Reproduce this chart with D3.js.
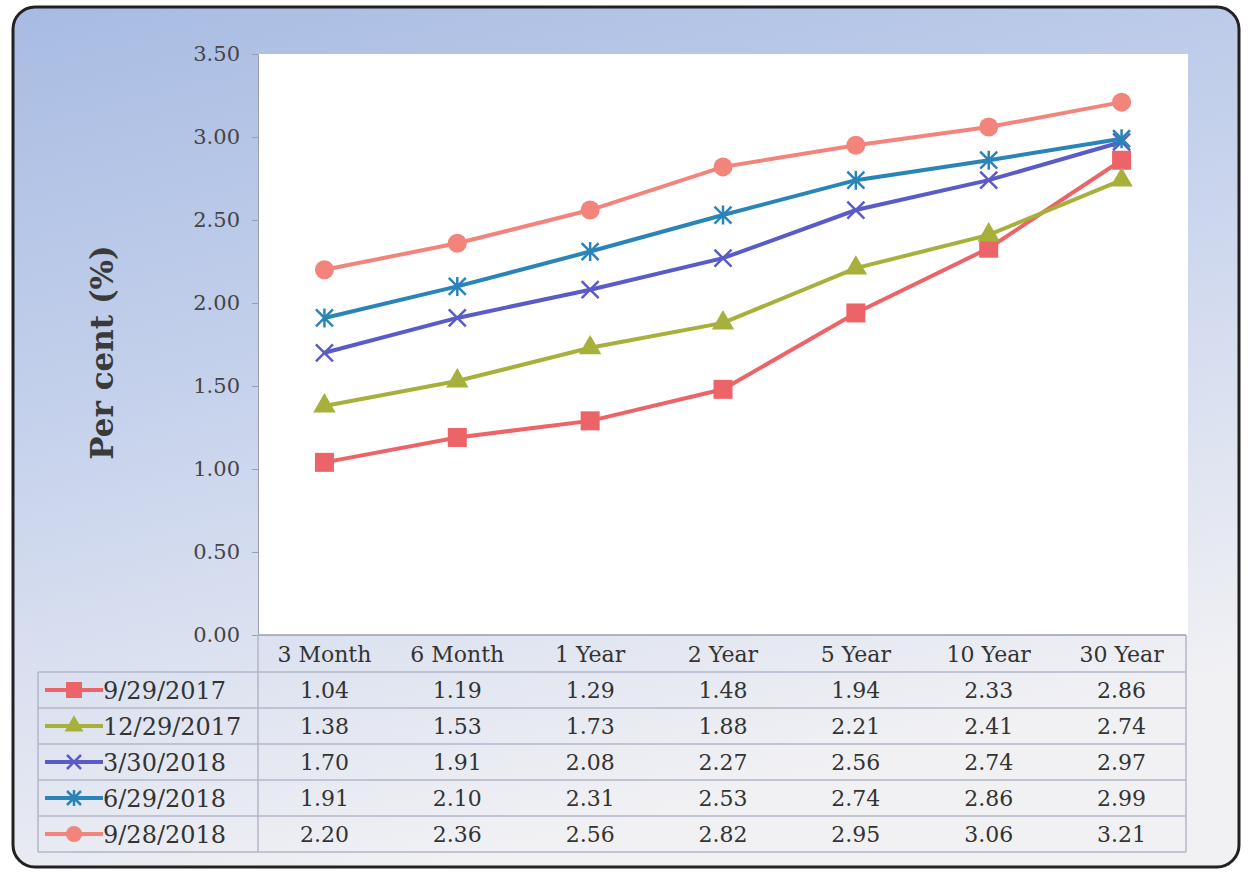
<!DOCTYPE html>
<html>
<head>
<meta charset="utf-8">
<script src="https://cdn.jsdelivr.net/npm/d3@7"></script>
<style>
  body { margin: 0; background: #fff; }
  svg text { font-family: "DejaVu Serif", serif; fill: #333; }
</style>
</head>
<body>
<div id="chart"></div>
<script>
// data
var categories = ["3 Month", "6 Month", "1 Year", "2 Year", "5 Year", "10 Year", "30 Year"];
var seriesNames = ["9/29/2017", "12/29/2017", "3/30/2018", "6/29/2018", "9/28/2018"];
var s2017q3 = [1.04, 1.19, 1.29, 1.48, 1.94, 2.33, 2.86];
var s2017q4 = [1.38, 1.53, 1.73, 1.88, 2.21, 2.41, 2.74];
var s2018q1 = [1.70, 1.91, 2.08, 2.27, 2.56, 2.74, 2.97];
var s2018q2 = [1.91, 2.10, 2.31, 2.53, 2.74, 2.86, 2.99];
var s2018q3 = [2.20, 2.36, 2.56, 2.82, 2.95, 3.06, 3.21];
var yTicks = [0, 0.5, 1, 1.5, 2, 2.5, 3, 3.5];

var seriesValues = [s2017q3, s2017q4, s2018q1, s2018q2, s2018q3];
var colors = ["#ec6468", "#a7b03a", "#5a5bc9", "#2b84b8", "#f2847c"];
var markers = ["square", "triangle", "cross", "star", "circle"];

var W = 1248, H = 873;
var plot = { left: 258, right: 1188, top: 54, bottom: 635 };
var table = { left: 38, right: 1186, headerTop: 636, rowTop: 672, rowH: 36 };

var svg = d3.select("#chart").append("svg")
    .attr("width", W).attr("height", H);

var defs = svg.append("defs");
var grad = defs.append("linearGradient").attr("id", "bg")
    .attr("x1", 0).attr("y1", 0).attr("x2", 0.35).attr("y2", 1);
grad.append("stop").attr("offset", "0%").attr("stop-color", "#a7bbe2");
grad.append("stop").attr("offset", "45%").attr("stop-color", "#c6d2ec");
grad.append("stop").attr("offset", "100%").attr("stop-color", "#f1f1f4");

// frame
svg.append("rect")
    .attr("x", 13).attr("y", 7).attr("width", 1226).attr("height", 860)
    .attr("rx", 22).attr("ry", 22)
    .style("fill", "url(#bg)")
    .style("stroke", "#222").style("stroke-width", 3);

// white plot area
svg.append("rect")
    .attr("x", plot.left).attr("y", plot.top)
    .attr("width", plot.right - plot.left).attr("height", plot.bottom - plot.top)
    .style("fill", "#fff");

var x = d3.scaleBand().domain(categories).range([plot.left, plot.right]);
var y = d3.scaleLinear().domain([0, 3.5]).range([plot.bottom, plot.top]);

// y axis
var yAxis = svg.append("g")
    .attr("transform", "translate(" + plot.left + ",0)")
    .call(d3.axisLeft(y).tickValues(yTicks).tickFormat(d3.format(".2f")).tickSize(6).tickPadding(12));
yAxis.select(".domain").style("stroke", "#9a9db0");
yAxis.selectAll(".tick line").style("stroke", "#9a9db0");
yAxis.selectAll(".tick text")
    .style("font-size", "21px").style("fill", "#444")
    .attr("dy", "0.32em");

svg.append("text")
    .attr("transform", "translate(113," + ((plot.top + plot.bottom) / 2 + 8) + ") rotate(-90)")
    .attr("text-anchor", "middle")
    .style("font-size", "31px").style("font-weight", "bold").style("fill", "#3a3a3a")
    .text("Per cent (%)");

// marker drawing
function drawMarker(g, type, color, size) {
    var s = size;
    if (type === "square") {
        g.append("rect").attr("x", -s / 2).attr("y", -s / 2).attr("width", s).attr("height", s)
            .style("fill", color);
    } else if (type === "triangle") {
        g.append("path").attr("d", d3.symbol().type(d3.symbolTriangle).size(s * s * 0.6))
            .style("fill", color);
    } else if (type === "circle") {
        g.append("circle").attr("r", s / 2).style("fill", color);
    } else if (type === "cross") {
        var h = s / 2 - 1;
        g.append("path").attr("d", "M" + (-h) + "," + (-h) + "L" + h + "," + h + "M" + (-h) + "," + h + "L" + h + "," + (-h))
            .style("stroke", color).style("stroke-width", 2.5).style("fill", "none");
    } else if (type === "star") {
        var h2 = s / 2 - 1;
        g.append("path").attr("d", "M" + (-h2) + "," + (-h2) + "L" + h2 + "," + h2 + "M" + (-h2) + "," + h2 + "L" + h2 + "," + (-h2) + "M0," + (-h2 - 1) + "L0," + (h2 + 1))
            .style("stroke", color).style("stroke-width", 2.5).style("fill", "none");
    }
}

var line = d3.line()
    .x(function(d, i) { return x(categories[i]) + x.bandwidth() / 2; })
    .y(function(d) { return y(d); });

seriesValues.forEach(function(vals, k) {
    var g = svg.append("g").attr("class", "series");
    g.append("path").datum(vals)
        .attr("d", line)
        .style("fill", "none")
        .style("stroke", colors[k])
        .style("stroke-width", 4);
    vals.forEach(function(v, i) {
        var m = g.append("g")
            .attr("transform", "translate(" + (x(categories[i]) + x.bandwidth() / 2) + "," + y(v) + ")");
        drawMarker(m, markers[k], colors[k], 19);
    });
});

// data table
var gridColor = "#b3b6c8";
var tb = svg.append("g").attr("class", "table");
var nRows = seriesNames.length;
var tableBottom = table.rowTop + nRows * table.rowH;

tb.append("line").attr("x1", plot.left).attr("x2", table.right)
    .attr("y1", plot.bottom).attr("y2", plot.bottom)
    .style("stroke", "#9a9db0").style("stroke-width", 1.5);
tb.append("line").attr("x1", plot.left).attr("x2", plot.left)
    .attr("y1", plot.bottom).attr("y2", tableBottom)
    .style("stroke", gridColor).style("stroke-width", 1.5);
tb.append("line").attr("x1", table.right).attr("x2", table.right)
    .attr("y1", plot.bottom).attr("y2", tableBottom)
    .style("stroke", gridColor).style("stroke-width", 1.5);
tb.append("line").attr("x1", table.left).attr("x2", table.left)
    .attr("y1", table.rowTop).attr("y2", tableBottom)
    .style("stroke", gridColor).style("stroke-width", 1.5);
d3.range(nRows + 1).forEach(function(r) {
    tb.append("line").attr("x1", table.left).attr("x2", table.right)
        .attr("y1", table.rowTop + r * table.rowH).attr("y2", table.rowTop + r * table.rowH)
        .style("stroke", gridColor).style("stroke-width", 1.5);
});

tb.selectAll(".hdr").data(categories).enter().append("text")
    .attr("class", "hdr")
    .attr("x", function(d) { return x(d) + x.bandwidth() / 2; })
    .attr("y", (table.headerTop + table.rowTop) / 2 + 8)
    .attr("text-anchor", "middle")
    .style("font-size", "22px")
    .text(function(d) { return d; });

seriesValues.forEach(function(vals, k) {
    var cy = table.rowTop + k * table.rowH + table.rowH / 2;
    tb.selectAll(".v" + k).data(vals).enter().append("text")
        .attr("x", function(d, i) { return x(categories[i]) + x.bandwidth() / 2; })
        .attr("y", cy + 8)
        .attr("text-anchor", "middle")
        .style("font-size", "22px")
        .text(function(d) { return d3.format(".2f")(d); });

    var lg = tb.append("g");
    lg.append("line").attr("x1", 45).attr("x2", 103).attr("y1", cy).attr("y2", cy)
        .style("stroke", colors[k]).style("stroke-width", 4);
    var m = lg.append("g").attr("transform", "translate(74," + cy + ")");
    drawMarker(m, markers[k], colors[k], 16);
    lg.append("text").attr("x", 103).attr("y", cy + 9)
        .style("font-size", "24px")
        .text(seriesNames[k]);
});
</script>
</body>
</html>
